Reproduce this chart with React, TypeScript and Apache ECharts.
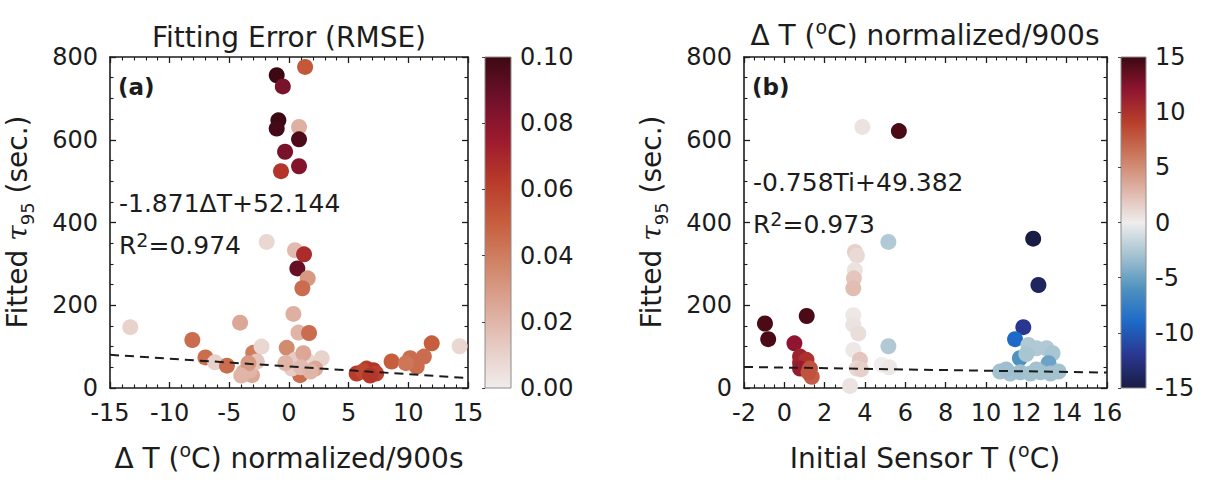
import React, { useEffect, useRef } from "react";
import * as echarts from "echarts";

const FONT = "'DejaVu Sans', 'Liberation Sans', Arial, sans-serif";
const INK = "#1c1c1c";

// Panel (a): normalised ΔT (°C / 900 s), fitted τ95 (s), fitting RMSE
const aDeltaT = [
  1.35, -1.03, -0.52, -0.89, -1.03, 0.84, 0.84, -0.33, 0.84, -0.67,
  -1.87, 0.5, 1.26, 0.7, 1.57, 1.12, 0.37, 0.79, 1.68,
  -13.3, -4.1, -8.1, -7.0, -6.2, -5.2, -3.8, -3.1, -3.3, -3.0, -2.3, -2.7, -3.4, -4.0,
  -0.19, 0.5, 1.48, 1.2, 2.74, 2.2, 0.93, 0.23, -0.3, 1.0, 1.8,
  5.67, 6.5, 7.07, 7.3, 6.2, 6.8, 8.6, 10.15, 10.7, 11.3, 9.8, 11.96, 14.3,
];
const aTau = [
  776, 756, 729, 647, 627, 631, 601, 571, 536, 524,
  353, 333, 323, 289, 265, 241, 179, 134, 133,
  147, 158, 116, 74, 62, 54, 38, 31, 42, 85, 100, 64, 60, 30,
  97, 68, 68, 84, 72, 47, 31, 47, 60, 50, 40,
  35, 47, 43, 35, 40, 30, 64, 72, 52, 76, 60, 108, 101,
];
const aRmse = [
  0.052, 0.1, 0.085, 0.1, 0.098, 0.022, 0.096, 0.085, 0.082, 0.065,
  0.008, 0.018, 0.068, 0.09, 0.03, 0.045, 0.022, 0.02, 0.045,
  0.01, 0.025, 0.045, 0.045, 0.01, 0.045, 0.022, 0.025, 0.02, 0.04, 0.008, 0.015, 0.03, 0.02,
  0.035, 0.012, 0.008, 0.025, 0.01, 0.025, 0.045, 0.012, 0.02, 0.018, 0.02,
  0.062, 0.062, 0.065, 0.06, 0.058, 0.064, 0.05, 0.045, 0.045, 0.045, 0.042, 0.05, 0.008,
];

// Panel (b): initial sensor temperature (°C), fitted τ95 (s), normalised ΔT
const bInitT = [
  3.87, 5.68, 5.16, 12.34, 12.6, 11.85, 11.44,
  3.5, 3.6, 3.5, 3.45, 3.42, 3.42, 3.42, 3.67, 3.42, 3.75, 3.59, 3.26, 3.8, 5.16, 4.83, 5.2,
  -0.96, -0.8, 1.11, 0.5, 0.78, 0.78, 1.1, 0.78, 1.27, 1.36, 1.2,
  12.1, 12.5, 13.0, 13.3, 11.68, 13.1, 10.7, 11.2, 11.7, 12.2, 12.7, 13.2, 13.6, 11.0, 12.5, 12.0,
];
const bTau = [
  631, 621, 353, 361, 249, 147, 118,
  329, 320, 285, 265, 241, 176, 153, 132, 92, 68, 47, 5, 45, 101, 56, 50,
  156, 118, 174, 108, 76, 61, 68, 47, 47, 27, 38,
  104, 96, 96, 84, 72, 60, 40, 35, 38, 35, 38, 35, 40, 45, 45, 82,
];
const bDeltaT = [
  0.5, 14.5, -2.5, -15, -14, -12, -9,
  1.5, 1, 0.5, 2, 2.5, 0.3, 0.5, 0.8, 0.3, 2, 1, 0.5, 1.5, -2.5, 0, 0.3,
  14.5, 14.5, 14.5, 12, 11, 11, 10, 11.5, 8, 7.5, 8,
  -2.5, -2.5, -2.5, -2.8, -6, -5, -3, -3, -3.2, -3, -3, -3, -3, -3.2, -3, -2.8,
];

// Linear fits quoted on each panel
const fitA = { slope: -1.871, intercept: 52.144, r2: "0.974" };
const fitB = { slope: -0.758, intercept: 49.382, r2: "0.973" };

// Axis ranges and ticks
const aXRange = [-15, 15, 5];
const bXRange = [-2, 16, 2];
const tauRange = [0, 800, 200];
const rmseRange = [0, 0.1, 0.02];
const deltaRange = [-15, 15, 5];

// Colour maps (evenly spaced stops)
const rmseColors = [
  "#f1ecec", "#e6cbc4", "#dca796", "#d18467", "#c65e3e",
  "#b83a2a", "#9c1a2e", "#70102a", "#3c0913",
];
const deltaColors = [
  "#191c43", "#2a3790", "#1d6ac8", "#4f92bf", "#a3c2d0", "#efeded",
  "#deb3a6", "#cc7a5f", "#b9402b", "#8f1530", "#3c0912",
];

const zip3 = (a: number[], b: number[], c: number[]) => a.map((v, i) => [v, b[i], c[i]]);

const boxAxis = (
  gridIndex: number,
  position: string,
  range: number[],
  minorSplit: number,
  labels: boolean,
) => ({
  gridIndex,
  type: "value",
  position,
  min: range[0],
  max: range[1],
  interval: range[2],
  axisLine: { show: true, onZero: false, lineStyle: { color: INK, width: 1.6 } },
  axisTick: { show: true, inside: true, length: 6, lineStyle: { color: INK, width: 1.3 } },
  minorTick: { show: true, splitNumber: minorSplit, length: 3.5, lineStyle: { color: INK, width: 1.1 } },
  axisLabel: {
    show: labels,
    margin: position === "bottom" ? 13 : 12,
    color: INK,
    fontSize: 24,
    lineHeight: 24,
    fontFamily: FONT,
  },
  splitLine: { show: false },
  minorSplitLine: { show: false },
});

const hiddenX = (gridIndex: number) => ({
  gridIndex,
  type: "value",
  min: 0,
  max: 1,
  show: false,
});

const barAxis = (gridIndex: number, range: number[], fmt: (v: number) => string) => ({
  gridIndex,
  type: "value",
  position: "right",
  min: range[0],
  max: range[1],
  interval: range[2],
  z: 5,
  axisLine: { show: false },
  axisTick: { show: true, inside: true, length: 3, lineStyle: { color: "#444", width: 1 } },
  axisLabel: { margin: 9, color: INK, fontSize: 24, lineHeight: 24, fontFamily: FONT, formatter: fmt },
  splitLine: { show: false },
});

const colorbarSeries = (axisIndex: number, range: number[], colors: string[]) => ({
  type: "custom",
  xAxisIndex: axisIndex,
  yAxisIndex: axisIndex,
  silent: true,
  clip: false,
  z: 1,
  data: [[0, range[0]]],
  renderItem: (_params: any, api: any) => {
    const lo = api.coord([0, range[0]]);
    const hi = api.coord([1, range[1]]);
    return {
      type: "rect",
      shape: { x: lo[0], y: hi[1], width: hi[0] - lo[0], height: lo[1] - hi[1] },
      style: {
        fill: new echarts.graphic.LinearGradient(
          0, 1, 0, 0,
          colors.map((c, i) => ({ offset: i / (colors.length - 1), color: c })),
        ),
        stroke: "#8c8c8c",
        lineWidth: 1,
      },
    };
  },
});

const fitLine = (xAxisIndex: number, fit: { slope: number; intercept: number }, x0: number, x1: number) => ({
  type: "line",
  xAxisIndex,
  yAxisIndex: xAxisIndex,
  z: 4,
  symbol: "none",
  silent: true,
  lineStyle: { color: INK, width: 2, type: [9, 6] },
  data: [
    [x0, fit.slope * x0 + fit.intercept],
    [x1, fit.slope * x1 + fit.intercept],
  ],
});

const scatter = (axisIndex: number, data: number[][]) => ({
  type: "scatter",
  xAxisIndex: axisIndex,
  yAxisIndex: axisIndex,
  symbol: "circle",
  symbolSize: 16,
  z: 3,
  itemStyle: { opacity: 1 },
  data,
});

const rich = {
  sup: { fontSize: 19, fontFamily: FONT, verticalAlign: "top", lineHeight: 19, fill: INK },
  sub: { fontSize: 18, fontFamily: FONT, verticalAlign: "bottom", lineHeight: 18, fill: INK },
  tau: { fontSize: 28, fontFamily: "'DejaVu Serif', serif", fontStyle: "italic", fill: INK },
};

const label = (x: number, y: number, text: string, size: number, opts: any = {}) => ({
  type: "text",
  x,
  y,
  silent: true,
  rotation: opts.rotation || 0,
  style: {
    text,
    fill: INK,
    fontSize: size,
    fontFamily: FONT,
    fontWeight: opts.bold ? "bold" : "normal",
    align: opts.align || "left",
    verticalAlign: "middle",
    lineHeight: opts.lineHeight || size + 4,
    rich,
  },
});

export default function App() {
  const ref = useRef<HTMLDivElement>(null);

  useEffect(() => {
    if (!ref.current) return;
    const chart = echarts.init(ref.current, null, { renderer: "svg" });
    chart.setOption({
      animation: false,
      backgroundColor: "#ffffff",
      grid: [
        { left: 110, top: 57, width: 358, height: 331 },
        { left: 485, top: 57, width: 26, height: 331 },
        { left: 744, top: 57, width: 363, height: 331 },
        { left: 1121, top: 57, width: 25, height: 331 },
      ],
      xAxis: [
        boxAxis(0, "bottom", aXRange, 5, true),
        boxAxis(0, "top", aXRange, 5, false),
        hiddenX(1),
        boxAxis(2, "bottom", bXRange, 4, true),
        boxAxis(2, "top", bXRange, 4, false),
        hiddenX(3),
      ],
      yAxis: [
        boxAxis(0, "left", tauRange, 4, true),
        boxAxis(0, "right", tauRange, 4, false),
        barAxis(1, rmseRange, (v: number) => v.toFixed(2)),
        boxAxis(2, "left", tauRange, 4, true),
        boxAxis(2, "right", tauRange, 4, false),
        barAxis(3, deltaRange, (v: number) => String(Math.round(v))),
      ],
      visualMap: [
        {
          type: "continuous",
          show: false,
          seriesIndex: 0,
          dimension: 2,
          min: rmseRange[0],
          max: rmseRange[1],
          inRange: { color: rmseColors },
        },
        {
          type: "continuous",
          show: false,
          seriesIndex: 3,
          dimension: 2,
          min: deltaRange[0],
          max: deltaRange[1],
          inRange: { color: deltaColors },
        },
      ],
      series: [
        scatter(0, zip3(aDeltaT, aTau, aRmse)),
        fitLine(0, fitA, aXRange[0], aXRange[1]),
        colorbarSeries(2, rmseRange, rmseColors),
        scatter(3, zip3(bInitT, bTau, bDeltaT)),
        fitLine(3, fitB, bXRange[0], bXRange[1]),
        colorbarSeries(5, deltaRange, deltaColors),
      ],
      graphic: [
        label(289, 37, "Fitting Error (RMSE)", 28, { align: "center" }),
        label(925, 35, "Δ T ({sup|o}C) normalized/900s", 28, { align: "center", lineHeight: 36 }),
        label(289, 458, "Δ T ({sup|o}C) normalized/900s", 28, { align: "center", lineHeight: 36 }),
        label(925, 458, "Initial Sensor T ({sup|o}C)", 28, { align: "center", lineHeight: 36 }),
        label(17, 222, "Fitted {tau|τ}{sub|95} (sec.)", 28, { align: "center", rotation: Math.PI / 2, lineHeight: 38 }),
        label(651, 222, "Fitted {tau|τ}{sub|95} (sec.)", 28, { align: "center", rotation: Math.PI / 2, lineHeight: 38 }),
        label(118, 87, "(a)", 23, { bold: true }),
        label(752, 87, "(b)", 23, { bold: true }),
        label(119, 203, `${fitA.slope}ΔT+${fitA.intercept}`, 25),
        label(119, 245, `R{sup|2}=${fitA.r2}`, 25, { lineHeight: 30 }),
        label(753, 182, `${fitB.slope}Ti+${fitB.intercept}`, 25),
        label(753, 224, `R{sup|2}=${fitB.r2}`, 25, { lineHeight: 30 }),
      ],
    });
    return () => chart.dispose();
  }, []);

  return (
    <div
      ref={ref}
      style={{ position: "absolute", left: 0, top: 0, width: 1210, height: 492, background: "#fff" }}
    />
  );
}
